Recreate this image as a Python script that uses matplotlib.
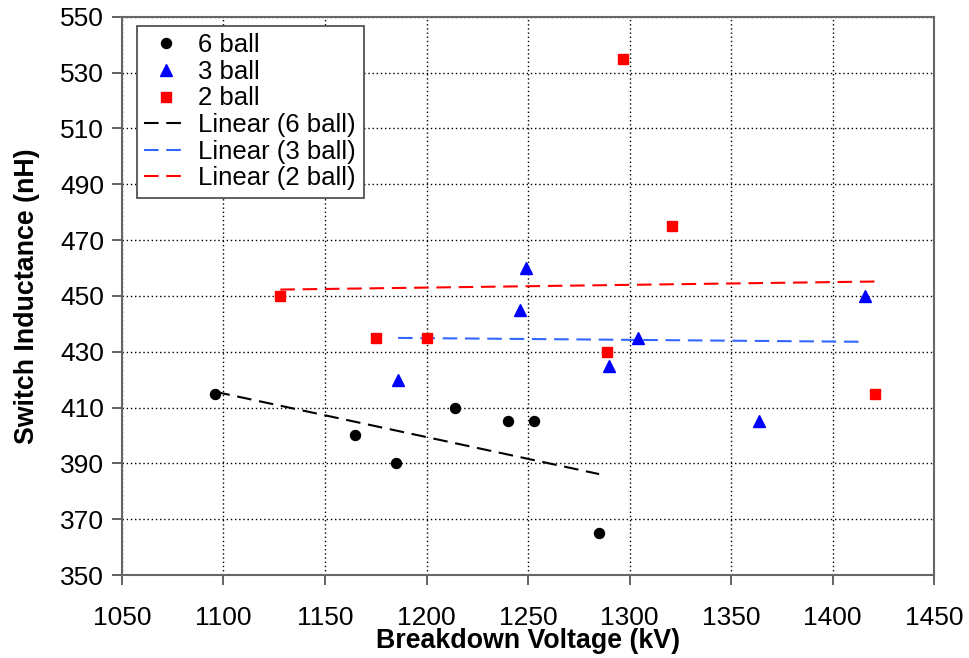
import numpy as np
import matplotlib
matplotlib.use("Agg")
import matplotlib.pyplot as plt

plt.rcParams['font.family'] = ['Liberation Sans', 'DejaVu Sans']

# Breakdown voltage (kV) and switch inductance (nH) per electrode configuration
six_ball_kv = [1096, 1165, 1185, 1214, 1240, 1253, 1285]
six_ball_nh = [415, 400, 390, 410, 405, 405, 365]

three_ball_kv = [1186, 1246, 1249, 1290, 1304, 1364, 1416]
three_ball_nh = [420, 445, 460, 425, 435, 405, 450]

two_ball_kv = [1128, 1175, 1200, 1289, 1297, 1321, 1421]
two_ball_nh = [450, 435, 435, 430, 535, 475, 415]

x_ticks = [1050, 1100, 1150, 1200, 1250, 1300, 1350, 1400, 1450]
y_ticks = [350, 370, 390, 410, 430, 450, 470, 490, 510, 530, 550]

fig = plt.figure(figsize=(9.69, 6.58), dpi=100)
ax = fig.add_axes([0.1259, 0.1261, 0.838, 0.8485])

dash = (0, (7, 3.7))

def trend(ax, xs, ys, color, label):
    xs = np.asarray(xs, float)
    ys = np.asarray(ys, float)
    slope, icpt = np.polyfit(xs, ys, 1)
    xx = np.array([xs.min(), xs.max()])
    ax.plot(xx, slope * xx + icpt, color=color, lw=1.5, linestyle=dash,
            label=label, zorder=3)

ax.plot(six_ball_kv, six_ball_nh, 'o', color='black', ms=7.2,
        linestyle='none', label='6 ball', zorder=4)
ax.plot(three_ball_kv, three_ball_nh, '^', color='#0000FF', ms=8,
        linestyle='none', label='3 ball', zorder=4)
ax.plot(two_ball_kv, two_ball_nh, 's', color='#FF0000', ms=7.5,
        linestyle='none', label='2 ball', zorder=4)

trend(ax, six_ball_kv, six_ball_nh, 'black', 'Linear (6 ball)')
trend(ax, three_ball_kv, three_ball_nh, '#3366FF', 'Linear (3 ball)')
trend(ax, two_ball_kv, two_ball_nh, '#FF0000', 'Linear (2 ball)')

ax.set_xlim(1050, 1450)
ax.set_ylim(350, 550)
ax.set_xticks(x_ticks)
ax.set_yticks(y_ticks)
ax.tick_params(axis='both', direction='out', length=7, width=1.3,
               color='#555555', labelsize=19)
ax.tick_params(axis='x', pad=15)
ax.tick_params(axis='y', pad=6)

ax.grid(True, color='black', linestyle=(0, (1, 2)), lw=1.0)
ax.set_axisbelow(True)
for s in ax.spines.values():
    s.set_color('#666666')
    s.set_linewidth(1.5)

ax.set_xlabel('Breakdown Voltage (kV)', fontsize=19.3, fontweight='bold',
              labelpad=-1)
ax.set_ylabel('Switch Inductance (nH)', fontsize=19.3, fontweight='bold',
              labelpad=14)

leg = ax.legend(loc='upper left', bbox_to_anchor=(0.018, 0.984),
                fontsize=18.5, frameon=True, fancybox=False, shadow=False,
                borderpad=0.3, labelspacing=0.1, handlelength=1.7,
                handletextpad=0.4, borderaxespad=0.0, numpoints=1)
leg.get_frame().set_edgecolor('#444444')
leg.get_frame().set_linewidth(1.2)
leg.get_frame().set_facecolor('white')
leg.get_frame().set_alpha(1.0)

fig.savefig('out.png', dpi=100)
